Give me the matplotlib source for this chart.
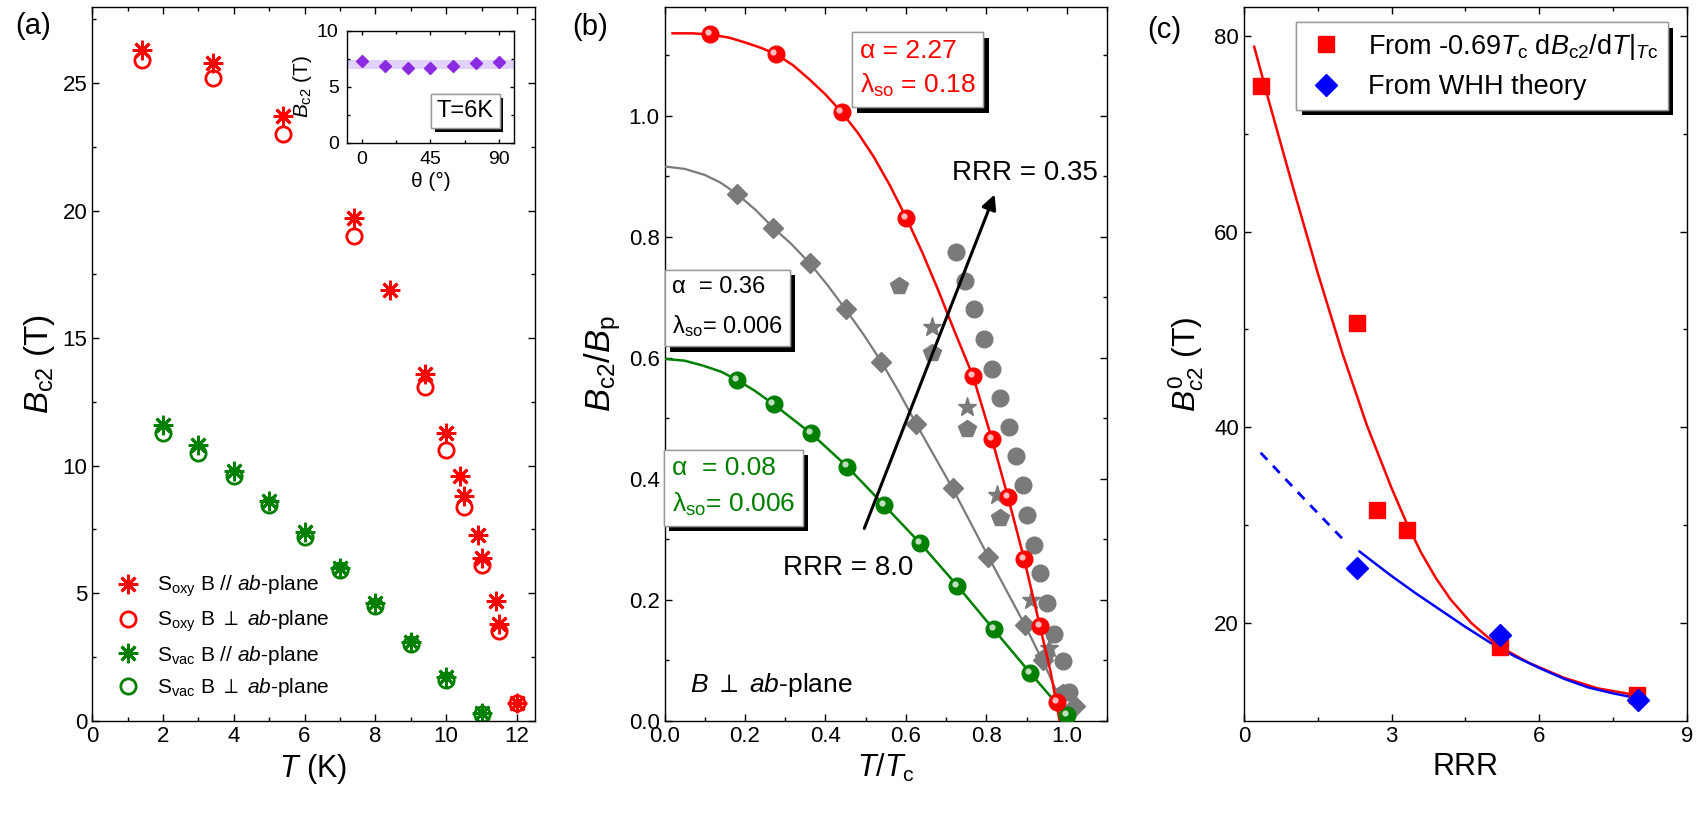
import matplotlib
matplotlib.use('Agg')
import matplotlib.pyplot as plt
import matplotlib.patheffects as pe
from matplotlib.transforms import offset_copy

plt.rcParams['font.family'] = ['Liberation Sans', 'DejaVu Sans']
plt.rcParams['mathtext.fontset'] = 'custom'
plt.rcParams['mathtext.rm'] = 'Liberation Sans'
plt.rcParams['mathtext.it'] = 'Liberation Sans:italic'
plt.rcParams['mathtext.bf'] = 'Liberation Sans:bold'
plt.rcParams['mathtext.fallback'] = 'stixsans'

# ---- panel (a): Bc2 vs T ----
t_oxy_par = [1.4, 3.4, 5.4, 7.4, 8.4, 9.4, 10.0, 10.4, 10.5, 10.9, 11.0, 11.4, 11.5, 12.0]
b_oxy_par = [26.3, 25.8, 23.7, 19.7, 16.9, 13.6, 11.3, 9.6, 8.8, 7.3, 6.4, 4.7, 3.8, 0.7]
t_oxy_perp = [1.4, 3.4, 5.4, 7.4, 9.4, 10.0, 10.5, 11.0, 11.5, 12.0]
b_oxy_perp = [25.9, 25.2, 23.0, 19.0, 13.1, 10.6, 8.4, 6.1, 3.5, 0.7]
t_vac = [2, 3, 4, 5, 6, 7, 8, 9, 10, 11]
b_vac_par = [11.6, 10.8, 9.8, 8.6, 7.4, 6.0, 4.6, 3.1, 1.7, 0.3]
b_vac_perp = [11.3, 10.5, 9.6, 8.45, 7.2, 5.9, 4.5, 3.0, 1.6, 0.25]

# inset: Bc2 vs angle at 6 K
theta = [0, 15, 30, 45, 60, 75, 90]
bc2_theta = [7.3, 6.85, 6.65, 6.7, 6.85, 7.1, 7.2]
band_lo, band_hi = 6.6, 7.4

# ---- panel (b): Bc2/Bp vs T/Tc ----
red_t = [0.114, 0.276, 0.440, 0.601, 0.767, 0.814, 0.854, 0.894, 0.933, 0.975]
red_b = [1.135, 1.102, 1.006, 0.831, 0.569, 0.465, 0.369, 0.267, 0.157, 0.031]
red_fit_t = [0.02, 0.07, 0.114, 0.16, 0.2, 0.24, 0.276, 0.32, 0.36, 0.40, 0.44, 0.48, 0.52,
             0.56, 0.601, 0.64, 0.68, 0.72, 0.767, 0.814, 0.854, 0.894, 0.933, 0.96, 0.982]
red_fit_b = [1.136, 1.136, 1.134, 1.129, 1.121, 1.112, 1.102, 1.083, 1.060, 1.035, 1.006,
             0.972, 0.932, 0.885, 0.831, 0.775, 0.712, 0.645, 0.569, 0.465, 0.369, 0.267,
             0.157, 0.080, 0.0]

gray_t = [0.181, 0.270, 0.361, 0.450, 0.539, 0.626, 0.716, 0.805, 0.896, 0.94, 1.02]
gray_b = [0.870, 0.815, 0.756, 0.680, 0.593, 0.490, 0.384, 0.271, 0.158, 0.10, 0.025]
gray_fit_t = [0.0, 0.05, 0.1, 0.14, 0.181, 0.225, 0.270, 0.315, 0.361, 0.405, 0.450, 0.495,
              0.539, 0.583, 0.626, 0.716, 0.805, 0.896, 0.95, 1.0]
gray_fit_b = [0.916, 0.912, 0.902, 0.889, 0.870, 0.845, 0.815, 0.788, 0.756, 0.720, 0.680,
              0.638, 0.593, 0.543, 0.490, 0.384, 0.271, 0.158, 0.085, 0.01]

green_t = [0.181, 0.271, 0.364, 0.454, 0.546, 0.636, 0.728, 0.818, 0.909, 1.0]
green_b = [0.563, 0.523, 0.475, 0.420, 0.356, 0.293, 0.223, 0.151, 0.079, 0.009]
green_fit_t = [0.0, 0.05, 0.095, 0.14, 0.181, 0.225, 0.271, 0.364, 0.454, 0.546, 0.636,
               0.728, 0.818, 0.909, 1.0]
green_fit_b = [0.598, 0.595, 0.587, 0.577, 0.563, 0.545, 0.523, 0.475, 0.420, 0.356, 0.293,
               0.223, 0.151, 0.079, 0.009]

circ_t = [0.724, 0.747, 0.770, 0.794, 0.815, 0.835, 0.857, 0.873, 0.890, 0.900, 0.918,
          0.934, 0.951, 0.969, 0.990, 1.005]
circ_b = [0.775, 0.727, 0.680, 0.631, 0.582, 0.533, 0.486, 0.437, 0.389, 0.340, 0.290,
          0.244, 0.194, 0.144, 0.098, 0.048]
pent_t = [0.583, 0.666, 0.751, 0.835, 0.943, 0.99]
pent_b = [0.719, 0.608, 0.482, 0.335, 0.103, 0.045]
star_t = [0.666, 0.752, 0.826, 0.911, 0.956]
star_b = [0.650, 0.519, 0.373, 0.200, 0.120]

# ---- panel (c): Bc2(0) vs RRR ----
rrr_sq = [0.35, 2.30, 2.70, 3.31, 5.20, 7.99]
bc2_sq = [74.85, 50.7, 31.5, 29.5, 17.5, 12.6]
rrr_dia = [2.30, 5.20, 8.0]
bc2_dia = [25.6, 18.8, 12.1]
red_curve_x = [0.21, 0.5, 1.0, 1.5, 2.0, 2.5, 3.0, 3.3, 3.6, 3.9, 4.2, 4.62, 5.15, 5.8,
               6.5, 7.2, 8.0]
red_curve_y = [78.9, 73.5, 64.5, 55.8, 47.6, 40.2, 33.8, 30.3, 27.2, 24.6, 22.4, 20.0,
               17.7, 15.9, 14.4, 13.3, 12.6]
blue_curve_x = [2.35, 3.0, 3.5, 4.0, 4.5, 5.0, 5.5, 6.0, 6.5, 7.0, 7.5, 8.0]
blue_curve_y = [27.3, 24.8, 23.0, 21.3, 19.6, 18.0, 16.6, 15.4, 14.3, 13.4, 12.8, 12.3]
blue_dash_x = [0.34, 1.24, 2.08]
blue_dash_y = [37.4, 32.6, 28.2]

RED = '#ff0000'
GREEN = '#008000'
GRAY = '#7a7a7a'
BLUE = '#0000ff'
shadow = [pe.withSimplePatchShadow(offset=(4, -4), shadow_rgbFace='k', alpha=1.0), pe.Normal()]


def style(ax, fs=16):
    ax.tick_params(which='both', direction='in', top=True, right=True, labelsize=fs)
    ax.tick_params(which='major', length=5, width=1)
    ax.tick_params(which='minor', length=3, width=1)
    for s in ax.spines.values():
        s.set_linewidth(1)


fig = plt.figure(figsize=(17, 8.19), dpi=100)
axA = fig.add_axes([0.0542, 0.120, 0.2603, 0.8718])
axB = fig.add_axes([0.3909, 0.120, 0.2603, 0.8718])
axC = fig.add_axes([0.7317, 0.120, 0.2605, 0.8718])

# panel (a)
ast = (8, 2, 0)
axA.plot(t_oxy_perp, b_oxy_perp, 'o', ms=11, mfc='none', mec=RED, mew=2, ls='none',
         label=r'S$_{\rm oxy}$ B $\perp$ $ab$-plane')
axA.plot(t_oxy_par, b_oxy_par, marker=ast, ms=14, mec=RED, mew=2, ls='none',
         label=r'S$_{\rm oxy}$ B // $ab$-plane')
axA.plot(t_vac, b_vac_perp, 'o', ms=11, mfc='none', mec=GREEN, mew=2, ls='none',
         label=r'S$_{\rm vac}$ B $\perp$ $ab$-plane')
axA.plot(t_vac, b_vac_par, marker=ast, ms=14, mec=GREEN, mew=2, ls='none',
         label=r'S$_{\rm vac}$ B // $ab$-plane')
h, l = axA.get_legend_handles_labels()
axA.legend([h[1], h[0], h[3], h[2]], [l[1], l[0], l[3], l[2]], loc='lower left',
           bbox_to_anchor=(0.0, 0.004), frameon=False, fontsize=15, labelspacing=0.45,
           handletextpad=0.6, handlelength=1.6)
axA.set_xlim(0, 12.5)
axA.set_ylim(0, 28)
axA.set_xticks(range(0, 13, 2))
axA.set_xticks(range(1, 13, 2), minor=True)
axA.set_yticks(range(0, 26, 5))
axA.set_yticks([2.5, 7.5, 12.5, 17.5, 22.5, 27.5], minor=True)
axA.set_xlabel(r'$T$ (K)', fontsize=22)
axA.set_ylabel(r'$B_{\rm c2}$ (T)', fontsize=24, labelpad=4)
style(axA)

# inset
ins = fig.add_axes([0.2041, 0.8258, 0.0982, 0.1364])
ins.axhspan(band_lo, band_hi, color='#e0d2f8', lw=0)
ins.plot(theta, bc2_theta, 'D', color='#8a2be2', ms=6, ls='none')
ins.set_xlim(-10, 100)
ins.set_ylim(0, 10)
ins.set_xticks([0, 45, 90])
ins.set_xticks([22.5, 67.5], minor=True)
ins.set_yticks([0, 5, 10])
ins.set_yticks([2.5, 7.5], minor=True)
ins.set_xlabel('θ (°)', fontsize=15, labelpad=3)
ins.set_ylabel(r'$B_{\rm c2}$ (T)', fontsize=15, labelpad=2)
style(ins, fs=14)
ins.tick_params(which='major', length=3, pad=6)
ins.tick_params(which='minor', length=2)
t6 = ins.text(0.71, 0.28, 'T=6K', transform=ins.transAxes, ha='center', va='center', fontsize=17,
              bbox=dict(boxstyle='square,pad=0.25', fc='white', ec='#999999', lw=1))
t6.get_bbox_patch().set_path_effects([pe.withSimplePatchShadow(offset=(2.5, -2.5), shadow_rgbFace='k', alpha=1.0), pe.Normal()])

# panel (b)
def balls(ax, x, y, color):
    ax.plot(x, y, 'o', color=color, ms=12, mec=color, zorder=4)
    hl = offset_copy(ax.transData, fig=fig, x=-1.5, y=1.5, units='points')
    ax.plot(x, y, 'o', color='white', ms=4.5, mew=0, alpha=0.75, transform=hl, zorder=5)

axB.plot(circ_t, circ_b, 'o', color=GRAY, ms=12, ls='none', zorder=2)
axB.plot(pent_t, pent_b, 'p', color=GRAY, ms=13, ls='none', zorder=2)
axB.plot(star_t, star_b, '*', color=GRAY, ms=14, ls='none', zorder=2)
axB.plot(gray_fit_t, gray_fit_b, '-', color=GRAY, lw=1.6, zorder=3)
axB.plot(gray_t, gray_b, 'D', color=GRAY, ms=10, ls='none', zorder=3)
axB.plot(green_fit_t, green_fit_b, '-', color=GREEN, lw=1.8, zorder=3)
balls(axB, green_t, green_b, GREEN)
axB.plot(red_fit_t, red_fit_b, '-', color=RED, lw=1.8, zorder=3)
balls(axB, red_t, red_b, RED)

axB.annotate('', xy=(0.823, 0.874), xytext=(0.494, 0.3135),
             arrowprops=dict(arrowstyle='-|>', color='k', lw=2.2, mutation_scale=22), zorder=6)
axB.text(0.715, 0.905, 'RRR = 0.35', fontsize=20, ha='left', va='center', zorder=7)
axB.text(0.295, 0.252, 'RRR = 8.0', fontsize=20, ha='left', va='center', zorder=7)
axB.text(0.064, 0.059, r'$B$ $\perp$ $ab$-plane', fontsize=19, ha='left', va='center')

box = dict(boxstyle='square,pad=0.3', fc='white', ec='#999999', lw=1)
tb1 = axB.text(0.485, 1.077, 'α = 2.27\n' + r'λ$_{\rm so}$ = 0.18', color=RED, fontsize=19,
               ha='left', va='center', linespacing=1.45, bbox=box, zorder=8)
tb2 = axB.text(0.018, 0.683, 'α  = 0.36\n' + r'λ$_{\rm so}$= 0.006', color='k', fontsize=17,
               ha='left', va='center', linespacing=1.75, bbox=box, zorder=8)
tb3 = axB.text(0.018, 0.386, 'α  = 0.08\n' + r'λ$_{\rm so}$= 0.006', color=GREEN, fontsize=19,
               ha='left', va='center', linespacing=1.5, bbox=box, zorder=8)
for tb in (tb1, tb2, tb3):
    tb.get_bbox_patch().set_path_effects(shadow)

axB.set_xlim(0, 1.1)
axB.set_ylim(0, 1.18)
axB.set_xticks([0, 0.2, 0.4, 0.6, 0.8, 1.0])
axB.set_xticklabels(['0.0', '0.2', '0.4', '0.6', '0.8', '1.0'])
axB.set_xticks([0.1, 0.3, 0.5, 0.7, 0.9, 1.1], minor=True)
axB.set_yticks([0, 0.2, 0.4, 0.6, 0.8, 1.0])
axB.set_yticklabels(['0.0', '0.2', '0.4', '0.6', '0.8', '1.0'])
axB.set_yticks([0.1, 0.3, 0.5, 0.7, 0.9, 1.1], minor=True)
axB.set_xlabel(r'$T/T_{\rm c}$', fontsize=22)
axB.set_ylabel(r'$B_{\rm c2}/B_{\rm p}$', fontsize=25, labelpad=4)
style(axB)

# panel (c)
axC.plot(red_curve_x, red_curve_y, '-', color=RED, lw=1.8)
axC.plot(blue_curve_x, blue_curve_y, '-', color=BLUE, lw=1.8)
axC.plot(blue_dash_x, blue_dash_y, color=BLUE, lw=2, ls=(0, (3.5, 3)))
axC.plot(rrr_sq, bc2_sq, 's', color=RED, ms=12, ls='none', zorder=4,
         label=r'From -0.69$T_{\rm c}$ d$B_{\rm c2}$/d$T|_{T{\rm c}}$')
axC.plot(rrr_dia, bc2_dia, 'D', color=BLUE, ms=11, ls='none', zorder=5,
         label='From WHH theory')
leg = axC.legend(loc='upper right', bbox_to_anchor=(0.957, 0.978), fontsize=19.5, fancybox=False,
                 edgecolor='#999999', framealpha=1, borderpad=0.35, labelspacing=0.45,
                 handletextpad=0.8, handlelength=1.5, borderaxespad=0)
leg.get_frame().set_linewidth(1)
leg.get_frame().set_path_effects(shadow)
axC.set_xlim(0, 9)
axC.set_ylim(10, 83)
axC.set_xticks([0, 3, 6, 9])
axC.set_xticks([1.5, 4.5, 7.5], minor=True)
axC.set_yticks([20, 40, 60, 80])
axC.set_yticks([30, 50, 70], minor=True)
axC.set_xlabel('RRR', fontsize=22)
axC.set_ylabel(r'$B^{\mathit{0}}_{\mathit{c2}}$ (T)', fontsize=23, labelpad=6)
style(axC)

fig.text(0.0194, 0.968, '(a)', fontsize=21, ha='center', va='center')
fig.text(0.347, 0.967, '(b)', fontsize=21, ha='center', va='center')
fig.text(0.685, 0.963, '(c)', fontsize=21, ha='center', va='center')

fig.savefig('out.png', dpi=100)
